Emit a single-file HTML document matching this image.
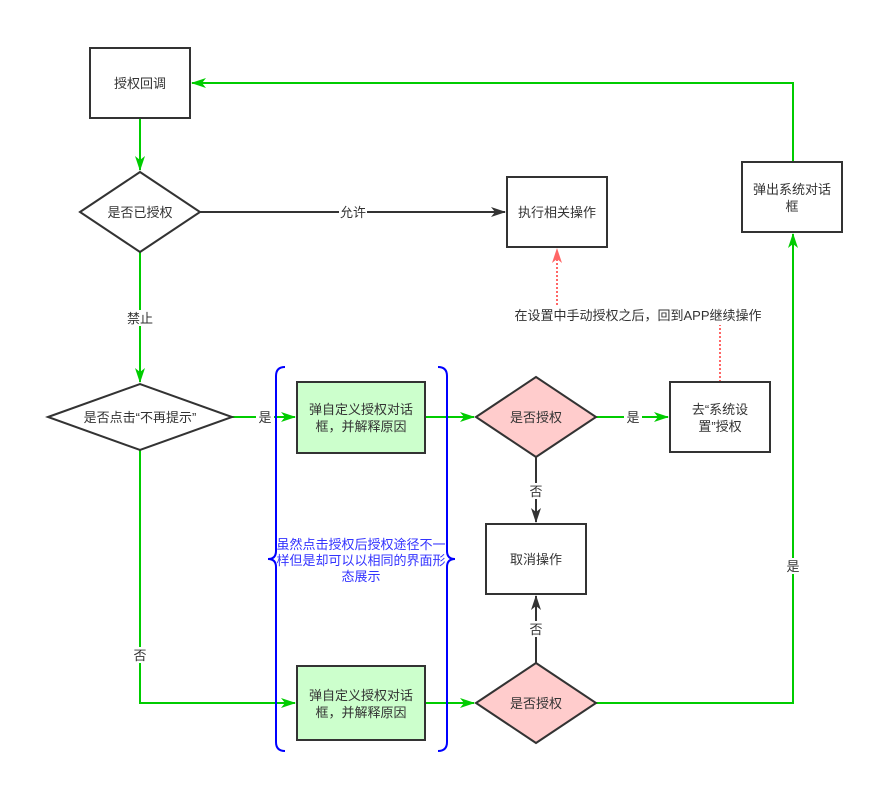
<!DOCTYPE html>
<html><head><meta charset="utf-8"><style>
body{margin:0;background:#fff}
svg text{font-family:"Liberation Sans","Noto Sans CJK SC",sans-serif;font-size:13px;fill:#333}
</style></head><body>
<svg width="874" height="783" viewBox="0 0 874 783" xmlns="http://www.w3.org/2000/svg">
<defs>
<marker id="k" markerWidth="16" markerHeight="12" refX="14" refY="6" orient="auto" markerUnits="userSpaceOnUse"><path d="M0,1 L15,6 L0,11 L4,6z" fill="#333"/></marker>
<marker id="gg" markerWidth="16" markerHeight="12" refX="14" refY="6" orient="auto" markerUnits="userSpaceOnUse"><path d="M0,1 L15,6 L0,11 L4,6z" fill="#00cc00"/></marker>
<marker id="r" markerWidth="16" markerHeight="12" refX="14" refY="6" orient="auto" markerUnits="userSpaceOnUse"><path d="M0,1 L15,6 L0,11 L4,6z" fill="#ff6666"/></marker>
</defs>
<g fill="none" stroke-width="2">
<path d="M140,118 V170" stroke="#00cc00" marker-end="url(#gg)"/>
<path d="M200,212 H505" stroke="#333" marker-end="url(#k)"/>
<path d="M140,252 V382" stroke="#00cc00" marker-end="url(#gg)"/>
<path d="M232,417 H295" stroke="#00cc00" marker-end="url(#gg)"/>
<path d="M425,417 H474" stroke="#00cc00" marker-end="url(#gg)"/>
<path d="M596,417 H668" stroke="#00cc00" marker-end="url(#gg)"/>
<path d="M536,457 V522" stroke="#333" marker-end="url(#k)"/>
<path d="M536,663 V596" stroke="#333" marker-end="url(#k)"/>
<path d="M140,450 V703 H295" stroke="#00cc00" marker-end="url(#gg)"/>
<path d="M425,703 H474" stroke="#00cc00" marker-end="url(#gg)"/>
<path d="M596,703 H793 V234" stroke="#00cc00" marker-end="url(#gg)"/>
<path d="M793,162 V83 H192" stroke="#00cc00" marker-end="url(#gg)"/>
<path d="M720,382 V325" stroke="#ff6666" stroke-dasharray="2,2"/>
<path d="M557,305 V249" stroke="#ff6666" stroke-dasharray="2,2" marker-end="url(#r)"/>
</g>
<g stroke="#333" stroke-width="2">
<rect x="90" y="48" width="100" height="70" fill="#fff"/>
<polygon points="80,212 140,172 200,212 140,252" fill="#fff"/>
<rect x="507" y="177" width="100" height="70" fill="#fff"/>
<rect x="742" y="162" width="100" height="70" fill="#fff"/>
<polygon points="48,417 140,384 232,417 140,450" fill="#fff"/>
<rect x="297" y="382" width="128" height="71" fill="#ccffcc"/>
<polygon points="476,417 536,377 596,417 536,457" fill="#ffcccc"/>
<rect x="670" y="382" width="100" height="70" fill="#fff"/>
<rect x="486" y="524" width="100" height="70" fill="#fff"/>
<rect x="297" y="666" width="128" height="74" fill="#ccffcc"/>
<polygon points="476,703 536,663 596,703 536,743" fill="#ffcccc"/>
</g>
<g fill="none" stroke="#0000ff" stroke-width="2">
<path d="M285,367 Q276,367 276,376 V551 Q276,559 268,559 Q276,559 276,567 V742 Q276,751 285,751"/>
<path d="M438,367 Q447,367 447,376 V551 Q447,559 455,559 Q447,559 447,567 V742 Q447,751 438,751"/>
</g>
<g text-anchor="middle">
<text x="140" y="88">授权回调</text>
<text x="140" y="217">是否已授权</text>
<text x="557" y="217">执行相关操作</text>
<text x="792" y="194">弹出系统对话</text><text x="792" y="211">框</text>
<text x="140" y="422">是否点击“不再提示”</text>
<text x="361" y="414">弹自定义授权对话</text><text x="361" y="431">框，并解释原因</text>
<text x="536" y="422">是否授权</text>
<text x="720" y="414">去“系统设</text><text x="720" y="431">置”授权</text>
<text x="536" y="564">取消操作</text>
<text x="361" y="700">弹自定义授权对话</text><text x="361" y="717">框，并解释原因</text>
<text x="536" y="708">是否授权</text>
<rect x="339" y="204" width="28" height="16" fill="#fff"/><text x="353" y="217">允许</text>
<rect x="124" y="310" width="32" height="16" fill="#fff"/><text x="140" y="323">禁止</text>
<rect x="256" y="409" width="18" height="16" fill="#fff"/><text x="265" y="422">是</text>
<rect x="624" y="409" width="18" height="16" fill="#fff"/><text x="633" y="422">是</text>
<rect x="527" y="483" width="18" height="16" fill="#fff"/><text x="536" y="496">否</text>
<rect x="527" y="621" width="18" height="16" fill="#fff"/><text x="536" y="634">否</text>
<rect x="131" y="647" width="18" height="16" fill="#fff"/><text x="140" y="660">否</text>
<rect x="784" y="558" width="18" height="16" fill="#fff"/><text x="793" y="571">是</text>
<text x="638" y="320">在设置中手动授权之后，回到APP继续操作</text>
<text x="361" y="549" style="fill:#3333ff">虽然点击授权后授权途径不一</text>
<text x="361" y="565" style="fill:#3333ff">样但是却可以以相同的界面形</text>
<text x="361" y="581" style="fill:#3333ff">态展示</text>
</g>
</svg>
</body></html>
